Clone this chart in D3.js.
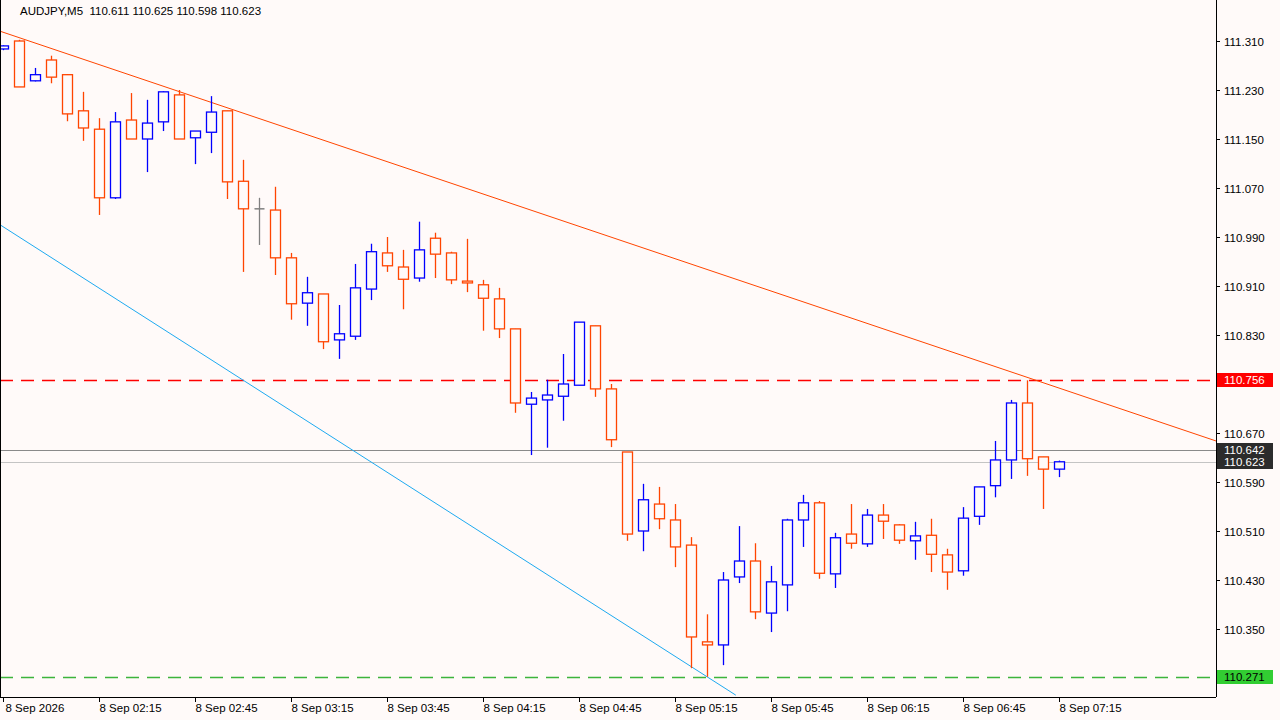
<!DOCTYPE html>
<html><head><meta charset="utf-8">
<script src="https://cdn.jsdelivr.net/npm/d3@7"></script>
<style>body{margin:0;background:#fffaf9}svg{display:block}</style></head>
<body><svg id="c" width="1280" height="720"></svg>
<script>
const startTime = "01:45";
const opens  = [111.297,111.310,111.245,111.279,111.255,111.196,111.166,111.054,111.181,111.150,111.178,111.222,111.152,111.161,111.196,111.081,111.036,111.034,110.956,110.882,110.897,110.822,110.828,110.905,110.964,110.941,110.923,110.988,110.964,110.918,110.912,110.889,110.840,110.717,110.724,110.730,110.748,110.845,110.742,110.639,110.510,110.554,110.528,110.487,110.329,110.324,110.435,110.461,110.376,110.422,110.528,110.556,110.440,110.505,110.489,110.536,110.520,110.494,110.503,110.471,110.445,110.534,110.584,110.626,110.719,110.631,110.611];
const highs  = [111.303,111.312,111.266,111.286,111.256,111.227,111.184,111.194,111.225,111.214,111.228,111.230,111.163,111.220,111.196,111.116,111.054,111.072,110.964,110.925,110.897,110.879,110.946,110.979,110.990,110.969,111.015,110.997,110.966,110.987,110.920,110.907,110.840,110.737,110.757,110.799,110.851,110.845,110.750,110.639,110.587,110.582,110.554,110.500,110.374,110.443,110.518,110.490,110.453,110.530,110.569,110.559,110.507,110.554,110.546,110.554,110.521,110.525,110.530,110.481,110.549,110.582,110.657,110.724,110.756,110.631,110.625];
const lows   = [111.295,111.235,111.244,111.241,111.179,111.147,111.026,111.052,111.150,111.096,111.163,111.150,111.109,111.127,111.052,110.933,110.977,110.928,110.855,110.845,110.807,110.791,110.822,110.887,110.933,110.872,110.917,110.923,110.913,110.900,110.837,110.825,110.703,110.634,110.646,110.690,110.748,110.729,110.647,110.494,110.477,110.513,110.451,110.286,110.272,110.291,110.425,110.366,110.345,110.379,110.484,110.432,110.417,110.481,110.484,110.497,110.489,110.463,110.443,110.414,110.437,110.520,110.565,110.595,110.600,110.546,110.598];
const closes = [111.302,111.235,111.255,111.251,111.191,111.168,111.054,111.178,111.150,111.176,111.227,111.150,111.163,111.194,111.080,111.036,111.036,110.956,110.881,110.899,110.819,110.832,110.907,110.966,110.943,110.921,110.969,110.962,110.920,110.915,110.890,110.840,110.719,110.727,110.732,110.750,110.851,110.742,110.659,110.505,110.561,110.530,110.484,110.337,110.324,110.430,110.461,110.378,110.427,110.528,110.556,110.441,110.499,110.490,110.536,110.526,110.495,110.502,110.472,110.443,110.531,110.582,110.626,110.719,110.628,110.611,110.623];
const priceTicks = ["111.310","111.230","111.150","111.070","110.990","110.910","110.830","110.670","110.590","110.510","110.430","110.350"];
const timeLabels = ["8 Sep 2026","8 Sep 02:15","8 Sep 02:45","8 Sep 03:15","8 Sep 03:45","8 Sep 04:15","8 Sep 04:45","8 Sep 05:15","8 Sep 05:45","8 Sep 06:15","8 Sep 06:45","8 Sep 07:15"];
const resistLine = [[-0.1875,111.326],[75.8125,110.657]];
const supportLine = [[-0.1875,111.010],[45.8,110.242]];
const hLevels = [
  {p:110.756, color:"#ff0000", dash:"13,8", label:"110.756", bg:"#ff0000", fg:"#ffffff"},
  {p:110.642, color:"#8a8a8a", dash:null, label:"110.642", bg:"#2b2b2b", fg:"#ffffff"},
  {p:110.623, color:"#c4c4c4", dash:null, label:"110.623", bg:"#2b2b2b", fg:"#ffffff"},
  {p:110.271, color:"#3cb43c", dash:"13,8", label:"110.271", bg:"#32cd32", fg:"#000000"}
];
const title = "AUDJPY,M5  110.611 110.625 110.598 110.623";

const svg = d3.select("#c");
const W=1216, H=697;
const x = d3.scaleLinear().domain([-0.1875,75.8125]).range([0,W]);
const y = d3.scaleLinear().domain([111.31,110.35]).range([41,629]);
const font = "Liberation Sans, Arial, sans-serif";
svg.append("rect").attr("width",1280).attr("height",720).attr("fill","#fffaf9");
const plot = svg.append("g");
plot.append("clipPath").attr("id","cp").append("rect").attr("width",W).attr("height",H);
const g = plot.append("g").attr("clip-path","url(#cp)");

hLevels.forEach(h=>{
  g.append("line").attr("x1",0).attr("x2",W).attr("y1",Math.round(y(h.p))+0.5).attr("y2",Math.round(y(h.p))+0.5)
   .attr("stroke",h.color).attr("stroke-width",h.dash?1.5:1).attr("stroke-dasharray",h.dash);
});
const ln = d3.line().x(d=>x(d[0])).y(d=>y(d[1]));
g.append("path").attr("d",ln(resistLine)).attr("stroke","#ff4500").attr("fill","none");
g.append("path").attr("d",ln(supportLine)).attr("stroke","#1eaaf0").attr("fill","none");

opens.forEach((o,i)=>{
  const c=closes[i], cx=Math.round(x(i))+0.5;
  const col = c>o ? "#0000ff" : (c<o ? "#ff4500" : "#808080");
  g.append("line").attr("x1",cx).attr("x2",cx).attr("y1",y(highs[i])).attr("y2",y(lows[i])).attr("stroke",col).attr("stroke-width",1.3);
  const top=y(Math.max(o,c)), bot=y(Math.min(o,c));
  if (bot-top<1.5){
    g.append("line").attr("x1",cx-5).attr("x2",cx+5).attr("y1",top).attr("y2",top).attr("stroke",col).attr("stroke-width",1.5);
  } else {
    g.append("rect").attr("x",cx-5).attr("y",top).attr("width",10).attr("height",bot-top)
     .attr("fill","#fffaf9").attr("stroke",col).attr("stroke-width",1.3);
  }
});

// frame
svg.append("line").attr("x1",W+0.5).attr("x2",W+0.5).attr("y1",0).attr("y2",H).attr("stroke","#000");
svg.append("line").attr("x1",0).attr("x2",W).attr("y1",H+0.5).attr("y2",H+0.5).attr("stroke","#000");
svg.append("line").attr("x1",0.5).attr("x2",0.5).attr("y1",0).attr("y2",H).attr("stroke","#000");

priceTicks.forEach(t=>{
  const yy=Math.round(y(+t))+0.5;
  svg.append("line").attr("x1",W).attr("x2",W+4).attr("y1",yy).attr("y2",yy).attr("stroke","#000");
  svg.append("text").attr("x",1224).attr("y",yy+4).text(t).attr("font-family",font).attr("font-size",11.5).attr("fill","#000");
});
hLevels.forEach(h=>{
  const yy=Math.round(y(h.p));
  svg.append("rect").attr("x",W+1).attr("y",yy-7).attr("width",56).attr("height",14).attr("fill",h.bg);
  svg.append("text").attr("x",1224).attr("y",yy+4).text(h.label).attr("font-family",font).attr("font-size",11.5).attr("fill",h.fg);
});
timeLabels.forEach((t,k)=>{
  const xx=Math.round(x(k*6))+0.5;
  svg.append("line").attr("x1",xx).attr("x2",xx).attr("y1",H).attr("y2",H+5).attr("stroke","#000");
  svg.append("text").attr("x",xx+(k===0?2:0)).attr("y",712).text(t).attr("font-family",font).attr("font-size",11.5).attr("fill","#000");
});
svg.append("text").attr("x",20).attr("y",15).text(title).attr("font-family",font).attr("font-size",11.5).attr("fill","#000").attr("xml:space","preserve").style("white-space","pre");
</script></body></html>
